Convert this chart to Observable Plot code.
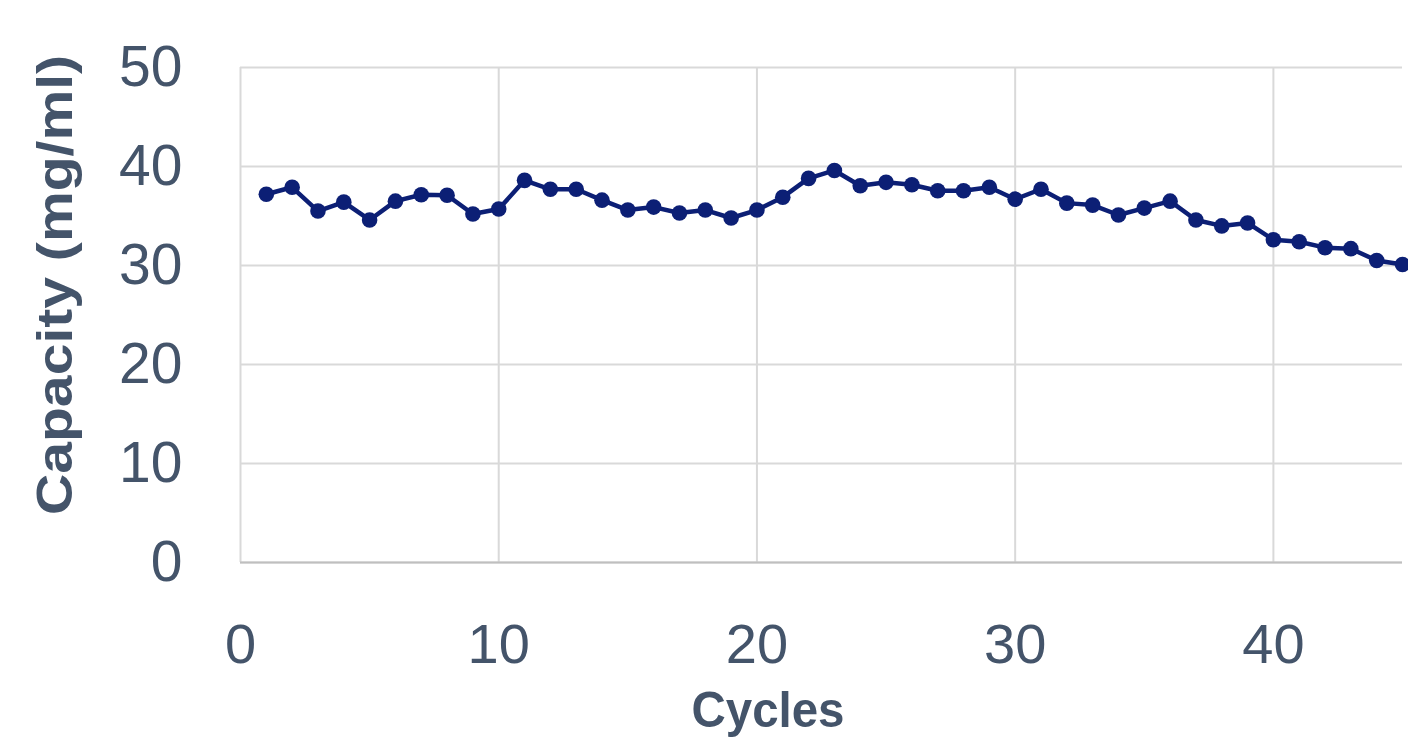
<!DOCTYPE html>
<html>
<head>
<meta charset="utf-8">
<script src="https://cdn.jsdelivr.net/npm/d3@7"></script>
<script src="https://cdn.jsdelivr.net/npm/@observablehq/plot@0.6"></script>
<style>
  html, body { margin: 0; padding: 0; background: #fff; overflow: hidden; }
  #chart svg { display: block; }
</style>
</head>
<body>
<div id="chart"></div>
<script>
const cycles = [1,2,3,4,5,6,7,8,9,10,11,12,13,14,15,16,17,18,19,20,21,22,23,24,25,26,27,28,29,30,31,32,33,34,35,36,37,38,39,40,41,42,43,44,45];
const capacity = [37.2,37.9,35.5,36.4,34.6,36.5,37.15,37.1,35.2,35.7,38.6,37.7,37.7,36.6,35.6,35.9,35.3,35.6,34.8,35.6,36.9,38.8,39.6,38.05,38.4,38.15,37.55,37.55,37.9,36.7,37.7,36.3,36.1,35.1,35.8,36.5,34.6,34.0,34.3,32.6,32.4,31.8,31.7,30.5,30.1];
const xTicks = [0,10,20,30,40];
const yTicks = [0,10,20,30,40,50];
const xTitle = "Cycles";
const yTitle = "Capacity (mg/ml)";

const data = cycles.map((c, i) => ({cycle: c, capacity: capacity[i]}));

const textColor = "#44546a";
const lineColor = "#0c1f75";

const chart = Plot.plot({
  width: 1408,
  height: 740,
  marginLeft: 240,
  marginRight: 6,
  marginTop: 67,
  marginBottom: 178,
  style: {background: "#fff", fontFamily: "'Liberation Sans', Arial, sans-serif", color: textColor},
  x: {domain: [0, 45], label: null},
  y: {domain: [0, 50], label: null},
  marks: [
    Plot.ruleX(xTicks, {stroke: "#d9d9d9", strokeWidth: 2}),
    Plot.ruleY(yTicks, {stroke: "#d9d9d9", strokeWidth: 2}),
    Plot.ruleY([0], {stroke: "#bfbfbf", strokeWidth: 2}),
    Plot.axisX(xTicks, {tickSize: 0, tickPadding: 61, fontSize: 56, fill: textColor, label: null}),
    Plot.axisY(yTicks, {tickSize: 0, tickPadding: 58, fontSize: 57, fill: textColor, label: null}),
    Plot.line(data, {x: "cycle", y: "capacity", stroke: lineColor, strokeWidth: 4.5}),
    Plot.dot(data, {x: "cycle", y: "capacity", r: 7.8, fill: lineColor, stroke: "none"})
  ]
});

const svg = d3.select(chart);
svg.append("text")
  .attr("transform", "translate(72,285) rotate(-90)")
  .attr("text-anchor", "middle")
  .attr("font-family", "'Liberation Sans', Arial, sans-serif")
  .attr("font-weight", "bold")
  .attr("font-size", 50)
  .attr("fill", textColor)
  .attr("textLength", 460)
  .attr("lengthAdjust", "spacingAndGlyphs")
  .text(yTitle);
svg.append("text")
  .attr("x", 768)
  .attr("y", 727)
  .attr("text-anchor", "middle")
  .attr("font-family", "'Liberation Sans', Arial, sans-serif")
  .attr("font-weight", "bold")
  .attr("font-size", 50)
  .attr("fill", textColor)
  .attr("textLength", 153)
  .attr("lengthAdjust", "spacingAndGlyphs")
  .text(xTitle);

document.getElementById("chart").appendChild(chart);
</script>
</body>
</html>
